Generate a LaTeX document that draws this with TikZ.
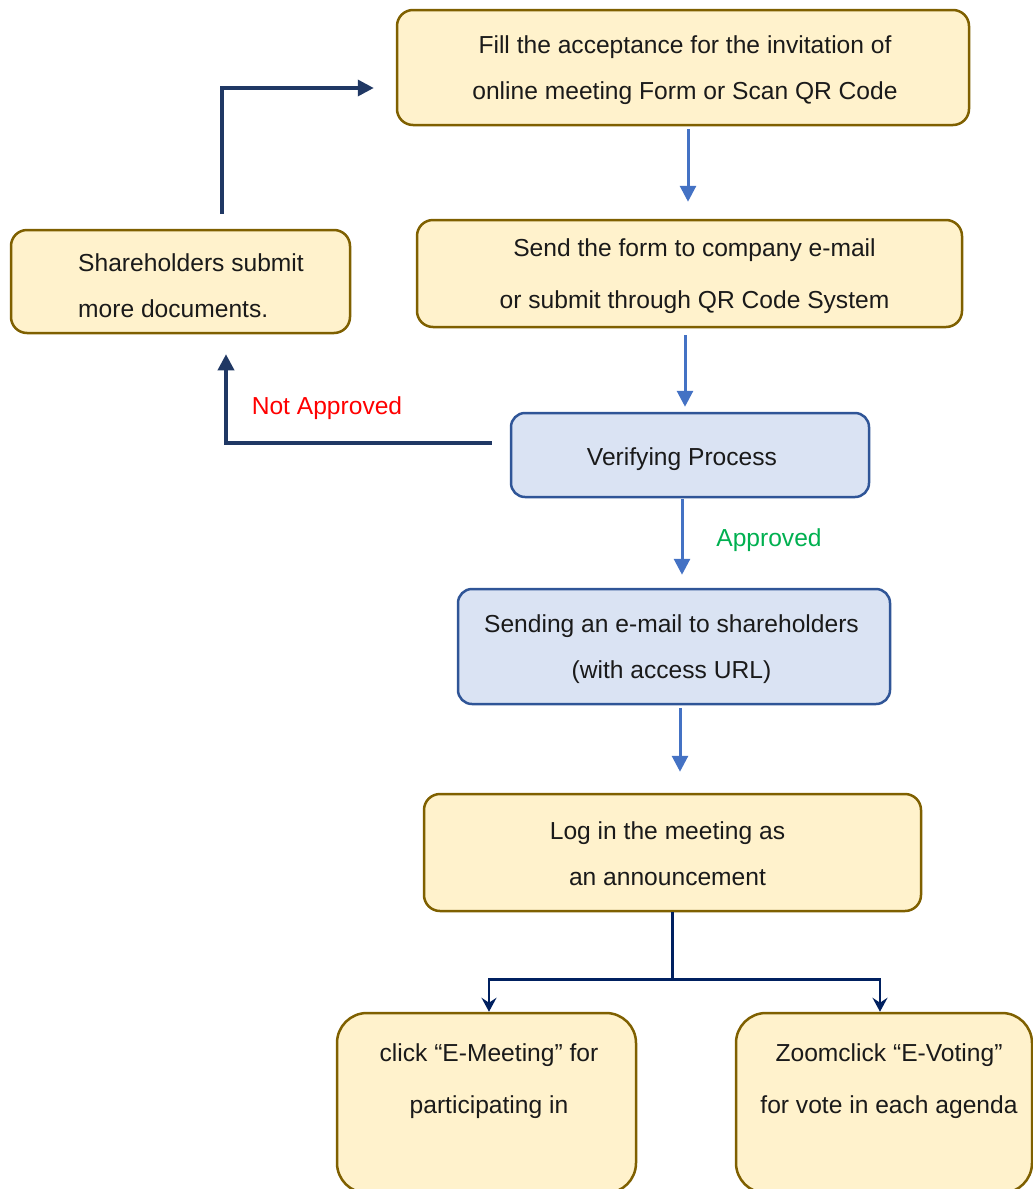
\documentclass[tikz,border=0pt]{standalone}
\usepackage{fontspec}
\setmainfont{Liberation Sans}
\usetikzlibrary{arrows.meta,calc}
\definecolor{yfill}{HTML}{FFF2CC}
\definecolor{ydraw}{HTML}{7F6000}
\definecolor{bfill}{HTML}{DAE3F3}
\definecolor{bdraw}{HTML}{2F5597}
\definecolor{barrowc}{HTML}{4472C4}
\definecolor{navy}{HTML}{203864}
\definecolor{navyb}{HTML}{002060}
\definecolor{okgreen}{HTML}{00B050}
\definecolor{txtc}{HTML}{1A1A1A}
\tikzset{
  ybox/.style={draw=ydraw, fill=yfill, line width=2.5pt, rounded corners=16pt, inner sep=0pt},
  bbox/.style={draw=bdraw, fill=bfill, line width=2.5pt, rounded corners=14pt, inner sep=0pt},
  txt/.style={font=\fontsize{24.6}{46}\selectfont, align=center, text=txtc, inner sep=0pt},
  txtw/.style={font=\fontsize{24.6}{52}\selectfont, align=center, text=txtc, inner sep=0pt},
  barrow/.style={draw=barrowc, line width=3pt, -{Triangle[length=16pt,width=16pt]}},
  narrow/.style={draw=navy, line width=3.5pt, -{Triangle[length=16pt,width=16pt]}},
  nline/.style={draw=navyb, line width=2.5pt},
  narrowb/.style={nline, -{Stealth[length=14pt,width=15pt,inset=5pt]}},
}
\begin{document}
\begin{tikzpicture}[x=1pt,y=-1pt]
\useasboundingbox (0,0) rectangle (1033,1189);
\clip (0,0) rectangle (1033,1189);
% boxes
\node[ybox, minimum width=572pt, minimum height=115pt] (n1) at (683,67.5) {};
\node[ybox, minimum width=545pt, minimum height=107pt] (n2) at (689.5,273.5) {};
\node[ybox, minimum width=339pt, minimum height=103pt] (n3) at (180.5,281.5) {};
\node[bbox, minimum width=358pt, minimum height=84pt] (n4) at (690,455) {};
\node[bbox, minimum width=432pt, minimum height=115pt] (n5) at (674,646.5) {};
\node[ybox, minimum width=497pt, minimum height=117pt] (n6) at (672.5,852.5) {};
\node[ybox, rounded corners=30pt, minimum width=299pt, minimum height=180pt] (n7) at (486.5,1103) {};
\node[ybox, rounded corners=30pt, minimum width=296pt, minimum height=180pt] (n8) at (884,1103) {};
% texts
\node[txt] (t1) at (685,70) {Fill the acceptance for the invitation of\\online meeting Form or Scan QR Code};
\node[txtw] (t2) at (694.5,276) {Send the form to company e-mail\\or submit through QR Code System};
\node[txt, align=left, anchor=west] (t3) at (78,285.5) {Shareholders submit\\more documents.};
\node[txt] (t4) at (682,459) {Verifying Process};
\node[txt] (t5) at (671.5,649) {Sending an e-mail to shareholders\\(with access URL)};
\node[txt] (t6) at (667.5,854) {Log in the meeting as\\an announcement};
\node[txtw] (t7) at (489,1081) {click “E-Meeting” for\\participating in};
\node[txtw] (t8) at (889,1081) {Zoomclick “E-Voting”\\for vote in each agenda};
\node[txt, text=red] (l1) at (327,408) {Not Approved};
\node[txt, text=okgreen] (l2) at (769,540) {Approved};
% blue arrows
\draw[barrow] ([xshift=5pt,yshift=-3pt]n1.south) -- ([xshift=-1.5pt,yshift=17pt]n2.north);
\draw[barrow] ([xshift=-4.5pt,yshift=-7pt]n2.south) -- ([xshift=-5pt,yshift=5pt]n4.north);
\draw[barrow] ([xshift=-8pt,yshift=-1pt]n4.south) -- ([xshift=8pt,yshift=13pt]n5.north);
\draw[barrow] ([xshift=6pt,yshift=-3pt]n5.south) -- ([xshift=7.5pt,yshift=21pt]n6.north);
% navy loop arrows
\draw[narrow] ([xshift=-18pt,yshift=12pt]n4.west) -| ([xshift=45.5pt,yshift=-20pt]n3.south);
\draw[narrow] ([xshift=41.5pt,yshift=15pt]n3.north) |- ([xshift=-22pt,yshift=-20.5pt]n1.west);
% split
\coordinate (split) at ($(n6.south)+(0,67)$);
\draw[nline] (n6.south) -- (split);
\draw[narrowb] (split) -| ([xshift=2.5pt]n7.north);
\draw[narrowb] (split) -| ([xshift=-4pt]n8.north);
\end{tikzpicture}
\end{document}
